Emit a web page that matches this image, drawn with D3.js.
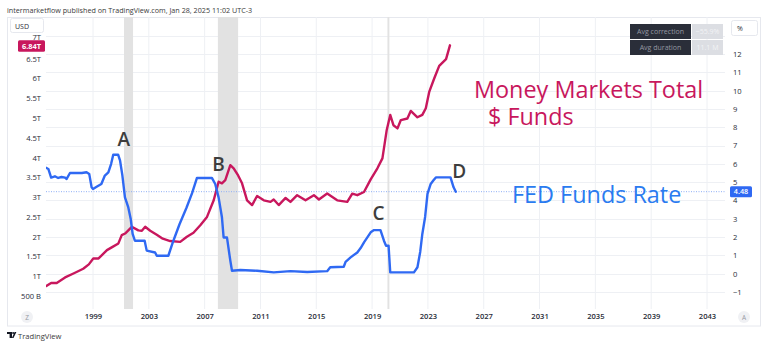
<!DOCTYPE html>
<html>
<head>
<meta charset="utf-8">
<script src="https://cdn.jsdelivr.net/npm/d3@7"></script>
<style>
  body { margin: 0; background: #fff; }
  svg { display: block; font-family: "Open Sans", "Noto Sans", sans-serif; }
</style>
</head>
<body>
<svg id="chart" width="768" height="349"></svg>
<script>
// Effective federal funds rate, % (decimal year, value)
const fedYears = [1995.63, 1995.8, 1996.0, 1996.27, 1996.5, 1996.75, 1997.0, 1997.1, 1997.35, 1997.8,
  1998.2, 1998.54, 1998.73, 1998.9, 1999.0, 1999.26, 1999.6, 1999.85, 2000.1, 2000.3,
  2000.45, 2000.8, 2000.94, 2001.1, 2001.29, 2001.53, 2001.7, 2001.84, 2002.0, 2002.7,
  2002.85, 2003.45, 2003.57, 2004.4, 2004.76, 2005.2, 2005.7, 2006.1, 2006.45, 2007.52,
  2007.76, 2008.0, 2008.24, 2008.36, 2008.6, 2008.84, 2008.96, 2009.56, 2010.76, 2011.95,
  2013.15, 2014.35, 2015.78, 2016.0, 2016.97, 2017.1, 2017.46, 2017.94, 2018.18, 2018.42,
  2018.66, 2018.9, 2019.14, 2019.6, 2019.85, 2020.0, 2020.18, 2020.3, 2022.0, 2022.25,
  2022.45, 2022.6, 2022.8, 2022.97, 2023.2, 2023.4, 2023.57, 2024.62, 2024.84, 2025.0];
const fedRate = [5.79, 5.72, 5.25, 5.32, 5.23, 5.28, 5.25, 5.17, 5.5, 5.5,
  5.5, 5.54, 5.45, 4.72, 4.63, 4.75, 4.9, 5.36, 5.54, 6.0,
  6.5, 6.5, 6.17, 5.4, 4.17, 3.62, 3.0, 2.17, 1.8, 1.8,
  1.26, 1.16, 0.98, 0.98, 1.8, 2.7, 3.6, 4.4, 5.23, 5.23,
  4.9, 4.17, 3.08, 1.98, 1.98, 0.71, 0.16, 0.2, 0.16, 0.07,
  0.14, 0.09, 0.14, 0.35, 0.38, 0.65, 0.89, 1.16, 1.4, 1.71,
  1.98, 2.26, 2.38, 2.38, 1.8, 1.53, 1.53, 0.07, 0.07, 0.35,
  1.2, 2.17, 3.1, 4.36, 4.9, 5.1, 5.26, 5.26, 4.72, 4.48];

// Money market funds, total assets, trillions USD (decimal year, value)
const mmfYears = [1995.63, 1996.0, 1996.4, 1997.0, 1997.6, 1998.3, 1998.7, 1999.02, 1999.4, 2000.0,
  2000.34, 2000.82, 2001.06, 2001.3, 2001.78, 2002.25, 2002.5, 2002.74, 2003.1, 2003.57,
  2004.0, 2004.53, 2005.25, 2005.73, 2006.2, 2006.69, 2007.17, 2007.65, 2008.0, 2008.24,
  2008.48, 2008.84, 2009.08, 2009.4, 2009.68, 2010.04, 2010.4, 2010.76, 2011.24, 2011.72,
  2011.95, 2012.31, 2012.8, 2013.15, 2013.63, 2014.23, 2014.83, 2015.19, 2015.78, 2016.5,
  2017.22, 2017.58, 2017.94, 2018.42, 2018.9, 2019.38, 2019.74, 2020.05, 2020.3, 2020.53,
  2020.82, 2021.06, 2021.53, 2021.77, 2022.25, 2022.6, 2022.85, 2023.1, 2023.45, 2023.81,
  2024.3, 2024.58];
const mmfTotal = [0.75, 0.83, 0.83, 0.97, 1.07, 1.19, 1.3, 1.45, 1.45, 1.66,
  1.73, 1.83, 2.04, 2.08, 2.25, 2.16, 2.15, 2.25, 2.15, 2.05,
  1.95, 1.89, 1.87, 2.0, 2.1, 2.29, 2.5, 2.92, 3.39, 3.35,
  3.43, 3.81, 3.73, 3.55, 3.35, 2.92, 2.8, 3.03, 2.92, 2.88,
  2.94, 2.8, 2.98, 2.88, 3.05, 2.92, 3.05, 2.94, 3.09, 2.92,
  2.88, 3.09, 3.05, 3.13, 3.45, 3.73, 3.98, 4.7, 5.08, 4.82,
  4.74, 4.95, 4.99, 5.18, 5.02, 5.08, 5.25, 5.67, 6.0, 6.32,
  6.49, 6.84];

const yearTicks = [1999, 2003, 2007, 2011, 2015, 2019, 2023, 2027, 2031, 2035, 2039, 2043];
const usdTicks = [0.5, 1, 1.5, 2, 2.5, 3, 3.5, 4, 4.5, 5, 5.5, 6, 6.5, 7];
const pctTicks = [-1, 0, 1, 2, 3, 4, 5, 6, 7, 8, 9, 10, 11, 12];
// Shaded recession periods (start, end) in decimal years
const recessionStart = [2001.22, 2007.95, 2020.1];
const recessionEnd = [2001.87, 2009.4, 2020.24];
const markerLetters = ["A", "B", "C", "D"];
const markerYears = [2001.2, 2008.0, 2019.46, 2025.25];
const markerPct = [7.0, 5.6, 2.95, 5.2];

const lastMmf = mmfTotal[mmfTotal.length - 1];
const lastFed = fedRate[fedRate.length - 1];

const RED = "#c8175d", BLUE = "#2f69f3", GRID = "#eef0f4";
const plot = { left: 46, right: 725, top: 17, bottom: 309 };

const svg = d3.select("#chart");

const x = d3.scaleLinear().domain([1999, 2043]).range([93, 707]);
const yL = d3.scaleLinear().domain([0.5, 7]).range([296, 39]);
const yR = d3.scaleLinear().domain([-1, 12]).range([292, 54]);

// Header line
svg.append("text").attr("x", 7).attr("y", 12.5)
  .attr("font-size", 7.2).attr("fill", "#3a3a3a")
  .text("intermarketflow published on TradingView.com, Jan 28, 2025 11:02 UTC-3");

// Card frame
svg.append("rect").attr("x", 7.5).attr("y", 17.5).attr("width", 753).attr("height", 308.5)
  .attr("fill", "#fff").attr("stroke", "#e6e8ee");

const defs = svg.append("defs");
defs.append("clipPath").attr("id", "plotclip").append("rect")
  .attr("x", plot.left).attr("y", plot.top)
  .attr("width", plot.right - plot.left).attr("height", plot.bottom - plot.top);

const g = svg.append("g").attr("clip-path", "url(#plotclip)");

// Grid
g.selectAll("line.vg").data(yearTicks).join("line").attr("class", "vg")
  .attr("x1", d => x(d)).attr("x2", d => x(d))
  .attr("y1", plot.top).attr("y2", plot.bottom)
  .attr("stroke", GRID).attr("stroke-width", 1);
g.selectAll("line.hg").data(pctTicks.concat([13])).join("line").attr("class", "hg")
  .attr("x1", plot.left).attr("x2", plot.right)
  .attr("y1", d => Math.round(yR(d)) + 0.5).attr("y2", d => Math.round(yR(d)) + 0.5)
  .attr("stroke", GRID).attr("stroke-width", 1);

// Recession shading
g.selectAll("rect.rec").data(d3.range(recessionStart.length)).join("rect").attr("class", "rec")
  .attr("x", i => x(recessionStart[i]))
  .attr("width", i => x(recessionEnd[i]) - x(recessionStart[i]))
  .attr("y", plot.top).attr("height", plot.bottom - plot.top)
  .attr("fill", "#e2e2e2");

// Last value reference line for the rate
g.append("line")
  .attr("x1", plot.left).attr("x2", plot.right)
  .attr("y1", yR(lastFed)).attr("y2", yR(lastFed))
  .attr("stroke", "#8fb0f6").attr("stroke-width", 1).attr("stroke-dasharray", "1,1.5");

// Series lines
const mmfLine = d3.line().x((d, i) => x(mmfYears[i])).y(d => yL(d));
const fedLine = d3.line().x((d, i) => x(fedYears[i])).y(d => yR(d));

g.append("path").datum(mmfTotal).attr("d", mmfLine)
  .attr("fill", "none").attr("stroke", RED).attr("stroke-width", 2.4)
  .attr("stroke-linejoin", "round").attr("stroke-linecap", "round");
g.append("path").datum(fedRate).attr("d", fedLine)
  .attr("fill", "none").attr("stroke", BLUE).attr("stroke-width", 2.4)
  .attr("stroke-linejoin", "round").attr("stroke-linecap", "round");

// Axes
const axisFont = (sel) => sel.selectAll("text").attr("font-size", 7.6).attr("fill", "#2a2e39")
  .attr("font-family", "'Open Sans', sans-serif");

const leftAxis = svg.append("g").attr("transform", "translate(44,0)")
  .call(d3.axisLeft(yL).tickValues(usdTicks).tickSize(0).tickPadding(3)
    .tickFormat(d => d < 1 ? "500 B" : d + "T"));
leftAxis.select(".domain").remove();
axisFont(leftAxis);
// the top label sits partly under the last-value tag
leftAxis.selectAll(".tick").filter(d => d === 7).select("text").attr("dy", "0.05em");

const rightAxis = svg.append("g").attr("transform", "translate(730,0)")
  .call(d3.axisRight(yR).tickValues(pctTicks).tickSize(0).tickPadding(3)
    .tickFormat(d => d < 0 ? "\u22121" : d));
rightAxis.select(".domain").remove();
axisFont(rightAxis);

const bottomAxis = svg.append("g").attr("transform", `translate(0,${plot.bottom})`)
  .call(d3.axisBottom(x).tickValues(yearTicks).tickSize(0).tickPadding(5).tickFormat(d3.format("d")));
bottomAxis.select(".domain").remove();
axisFont(bottomAxis);
bottomAxis.selectAll("text").attr("font-weight", 600);

// Scale badges
svg.append("rect").attr("x", 10.5).attr("y", 18.5).attr("width", 33).attr("height", 14).attr("rx", 2)
  .attr("fill", "#fff").attr("stroke", "#e6e8ee");
svg.append("text").attr("x", 15).attr("y", 28.5).attr("font-size", 7).attr("fill", "#2a2e39").text("USD");
svg.append("rect").attr("x", 731.5).attr("y", 20.5).attr("width", 26).attr("height", 15).attr("rx", 2)
  .attr("fill", "#fff").attr("stroke", "#e6e8ee");
svg.append("text").attr("x", 737).attr("y", 31).attr("font-size", 7).attr("fill", "#2a2e39").text("%");

// Last value tags
svg.append("rect").attr("x", 18).attr("y", yL(lastMmf) - 5.2).attr("width", 27).attr("height", 11.5).attr("rx", 1.5)
  .attr("fill", RED);
svg.append("text").attr("x", 31.5).attr("y", yL(lastMmf) + 3.4).attr("text-anchor", "middle")
  .attr("font-size", 7.4).attr("font-weight", 700).attr("fill", "#fff").text(d3.format(".2f")(lastMmf) + "T");
svg.append("rect").attr("x", 730).attr("y", yR(lastFed) - 5.5).attr("width", 22).attr("height", 11).attr("rx", 1.5)
  .attr("fill", BLUE);
svg.append("text").attr("x", 741).attr("y", yR(lastFed) + 2.7).attr("text-anchor", "middle")
  .attr("font-size", 7.2).attr("font-weight", 600).attr("fill", "#fff").text(d3.format(".2f")(lastFed));

// Statistics panel
const statNames = ["Avg correction", "Avg duration"];
const statValues = ["\u221255.9%", "11.1 M"];
statNames.forEach((name, i) => {
  const yy = 24 + i * 16;
  svg.append("rect").attr("x", 630).attr("y", yy).attr("width", 61).attr("height", 15).attr("fill", "#2a2e39");
  svg.append("text").attr("x", 660.5).attr("y", yy + 10).attr("text-anchor", "middle")
    .attr("font-size", 7).attr("fill", "#9598a1").text(name);
  svg.append("rect").attr("x", 692).attr("y", yy).attr("width", 31).attr("height", 15).attr("fill", "#dcdee3");
  svg.append("text").attr("x", 707.5).attr("y", yy + 10).attr("text-anchor", "middle")
    .attr("font-size", 7).attr("fill", "#f2f3f5").text(statValues[i]);
});

// Letter markers
svg.selectAll("text.mk").data(markerLetters).join("text").attr("class", "mk")
  .attr("x", (d, i) => x(markerYears[i])).attr("y", (d, i) => yR(markerPct[i]))
  .attr("text-anchor", "middle").attr("font-size", 19).attr("font-weight", 600)
  .attr("fill", "#3d3d3d").text(d => d);

// Series titles (two-line title for the money market series)
const mmTitle = svg.append("text").attr("font-size", 23.4).attr("fill", RED);
mmTitle.append("tspan").attr("x", 474).attr("y", 98).text("Money Markets Total");
mmTitle.append("tspan").attr("x", 488).attr("y", 125).text("$ Funds");
svg.append("text").attr("x", 512).attr("y", 203).attr("font-size", 23.4).attr("fill", "#2a7bf0")
  .text("FED Funds Rate");

// Scale buttons in the time axis corners
[["Z", 27], ["A", 744]].forEach(([t, cx]) => {
  svg.append("circle").attr("cx", cx).attr("cy", 317).attr("r", 6).attr("fill", "#f0f1f4");
  svg.append("text").attr("x", cx).attr("y", 319.5).attr("text-anchor", "middle")
    .attr("font-size", 6.5).attr("fill", "#9598a1").text(t);
});

// Footer brand
const logo = svg.append("g").attr("transform", "translate(7,332)");
logo.append("path").attr("d", "M0 0h5v6h-2.4V2H0z M7.6 0h1.8L6.5 6H4.9z").attr("fill", "#131722");
logo.append("circle").attr("cx", 6.1).attr("cy", 1).attr("r", 1).attr("fill", "#131722");
svg.append("text").attr("x", 18).attr("y", 338.5).attr("font-size", 7.6).attr("fill", "#3a3a3a").text("TradingView");
</script>
</body>
</html>
